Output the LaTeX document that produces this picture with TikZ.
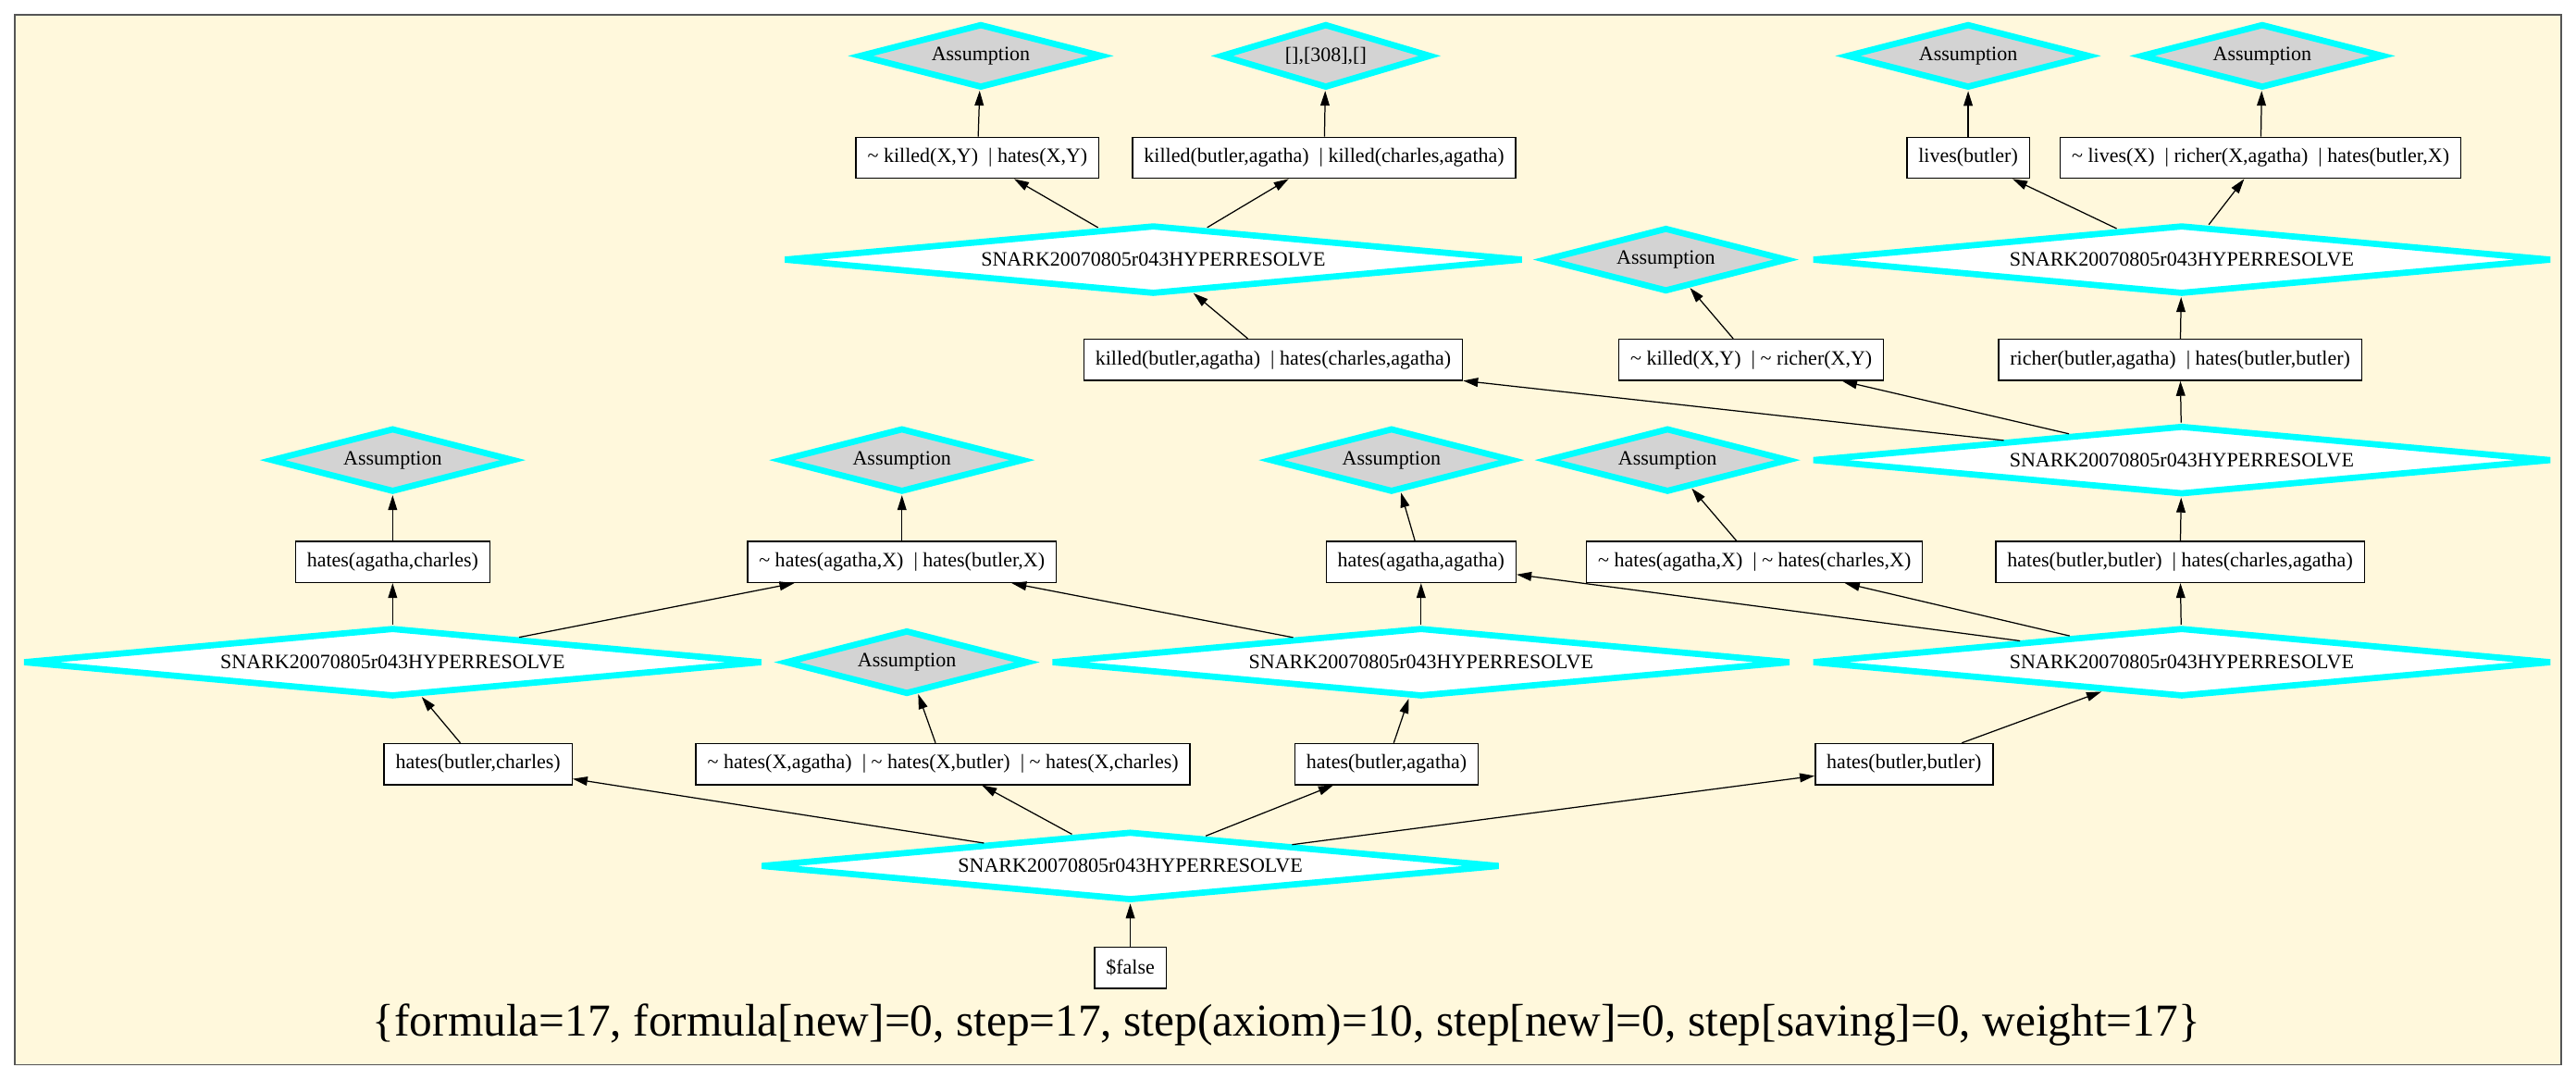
\documentclass[tikz,border=0pt]{standalone}
\usepackage{fontspec}
\setmainfont{Liberation Serif}
\usetikzlibrary{shapes.geometric,arrows.meta}
\definecolor{bgc}{HTML}{FFF8DC}
\definecolor{frm}{HTML}{555555}
\definecolor{cy}{HTML}{00FFFF}
\definecolor{lg}{HTML}{D3D3D3}
\begin{document}
\begin{tikzpicture}[x=1pt,y=-1pt,
  base/.style={font=\fontsize{12.4}{14}\selectfont, text=black},
  clause/.style={base, rectangle, draw=black, line width=0.8pt, fill=white, minimum height=25pt, inner xsep=7pt, inner ysep=0pt},
  infer/.style={base, diamond, draw=cy, line width=3.8pt, fill=white, minimum width=450pt, minimum height=42pt, inner sep=0pt, aspect=10},
  assume/.style={base, diamond, draw=cy, line width=3.8pt, fill=lg, minimum width=148pt, minimum height=39pt, inner sep=0pt, aspect=4},
  conn/.style={-{Triangle[length=9pt,width=5.5pt]}, line width=0.7pt, draw=black}
]
\fill[white] (0,0) rectangle (1568,657);
\useasboundingbox (0,0) rectangle (1568,657);
\draw[frm, line width=1pt, fill=bgc] (9,9) rectangle (1559,648);

% row 1
\node[assume] (A1) at (597,34) {Assumption};
\node[assume, minimum width=128pt] (A2) at (807,34) {[],[308],[]};
\node[assume] (A3) at (1198,34) {Assumption};
\node[assume] (A4) at (1377,34) {Assumption};
% row 2
\node[clause] (B1) at (595,96) {\textasciitilde\ killed(X,Y) \ | hates(X,Y)};
\node[clause] (B2) at (806,96) {killed(butler,agatha) \ | killed(charles,agatha)};
\node[clause] (B3) at (1198,96) {lives(butler)};
\node[clause] (B4) at (1376,96) {\textasciitilde\ lives(X) \ | richer(X,agatha) \ | hates(butler,X)};
% row 3
\node[infer] (S1) at (702,158) {SNARK20070805r043HYPERRESOLVE};
\node[assume] (A5) at (1014,158) {Assumption};
\node[infer] (S2) at (1328,158) {SNARK20070805r043HYPERRESOLVE};
% row 4
\node[clause] (B5) at (775,219) {killed(butler,agatha) \ | hates(charles,agatha)};
\node[clause] (B6) at (1066,219) {\textasciitilde\ killed(X,Y) \ | \textasciitilde\ richer(X,Y)};
\node[clause] (B7) at (1327,219) {richer(butler,agatha) \ | hates(butler,butler)};
% row 5
\node[assume] (A6) at (239,280) {Assumption};
\node[assume] (A7) at (549,280) {Assumption};
\node[assume] (A8) at (847,280) {Assumption};
\node[assume] (A9) at (1015,280) {Assumption};
\node[infer] (S3) at (1328,280) {SNARK20070805r043HYPERRESOLVE};
% row 6
\node[clause] (B8) at (239,342) {hates(agatha,charles)};
\node[clause] (B9) at (549,342) {\textasciitilde\ hates(agatha,X) \ | hates(butler,X)};
\node[clause] (B10) at (865,342) {hates(agatha,agatha)};
\node[clause] (B11) at (1068,342) {\textasciitilde\ hates(agatha,X) \ | \textasciitilde\ hates(charles,X)};
\node[clause] (B12) at (1327,342) {hates(butler,butler) \ | hates(charles,agatha)};
% row 7
\node[infer] (S4) at (239,403) {SNARK20070805r043HYPERRESOLVE};
\node[assume] (A10) at (552,403) {Assumption};
\node[infer] (S5) at (865,403) {SNARK20070805r043HYPERRESOLVE};
\node[infer] (S6) at (1328,403) {SNARK20070805r043HYPERRESOLVE};
% row 8
\node[clause] (B13) at (291,465) {hates(butler,charles)};
\node[clause] (B14) at (574,465) {\textasciitilde\ hates(X,agatha) \ | \textasciitilde\ hates(X,butler) \ | \textasciitilde\ hates(X,charles)};
\node[clause] (B15) at (844,465) {hates(butler,agatha)};
\node[clause] (B16) at (1159,465) {hates(butler,butler)};
% row 9
\node[infer] (S7) at (688,527) {SNARK20070805r043HYPERRESOLVE};
% row 10
\node[clause] (B17) at (688,589) {\$false};
% title
\node[font=\fontsize{27.8}{32}\selectfont, text=black] (T) at (783,624) {\{formula=17, formula[new]=0, step=17, step(axiom)=10, step[new]=0, step[saving]=0, weight=17\}};

% edges
\draw[conn] (B1) -- (A1);
\draw[conn] (B2) -- (A2);
\draw[conn] (S1) -- (B1);
\draw[conn] (S1) -- (B2);
\draw[conn] (B3) -- (A3);
\draw[conn] (B4) -- (A4);
\draw[conn] (S2) -- (B3);
\draw[conn] (S2) -- (B4);
\draw[conn] (B5) -- (S1);
\draw[conn] (B6) -- (A5);
\draw[conn] (B7) -- (S2);
\draw[conn] (S3) -- (B5);
\draw[conn] (S3) -- (B6);
\draw[conn] (S3) -- (B7);
\draw[conn] (B8) -- (A6);
\draw[conn] (B9) -- (A7);
\draw[conn] (B10) -- (A8);
\draw[conn] (B11) -- (A9);
\draw[conn] (B12) -- (S3);
\draw[conn] (S4) -- (B8);
\draw[conn] (S4) -- (B9);
\draw[conn] (S5) -- (B9);
\draw[conn] (S5) -- (B10);
\draw[conn] (S6) -- (B10);
\draw[conn] (S6) -- (B11);
\draw[conn] (S6) -- (B12);
\draw[conn] (B13) -- (S4);
\draw[conn] (B14) -- (A10);
\draw[conn] (B15) -- (S5);
\draw[conn] (B16) -- (S6);
\draw[conn] (S7) -- (B13);
\draw[conn] (S7) -- (B14);
\draw[conn] (S7) -- (B15);
\draw[conn] (S7) -- (B16);
\draw[conn] (B17) -- (S7);
\end{tikzpicture}
\end{document}
